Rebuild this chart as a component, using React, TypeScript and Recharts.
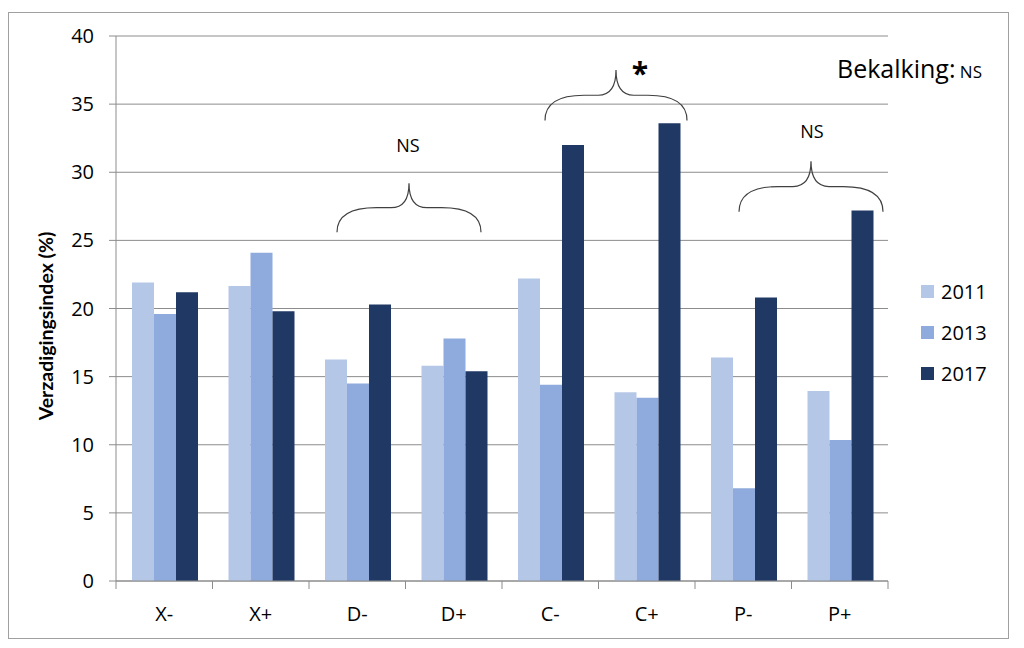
import React from "react";
import { BarChart, Bar, XAxis, YAxis, CartesianGrid, ReferenceArea } from "recharts";

const categories = ["X-", "X+", "D-", "D+", "C-", "C+", "P-", "P+"];
const years = ["2011", "2013", "2017"];
const values2011 = [21.9, 21.65, 16.25, 15.8, 22.2, 13.85, 16.4, 13.95];
const values2013 = [19.6, 24.1, 14.5, 17.8, 14.4, 13.45, 6.8, 10.35];
const values2017 = [21.2, 19.8, 20.3, 15.4, 32.0, 33.6, 20.8, 27.2];
const yTicks = [0, 5, 10, 15, 20, 25, 30, 35, 40];

// significance braces: which categories they span and their height in data units
const braceFrom = ["D-", "C-", "P-"];
const braceTo = ["D+", "C+", "P+"];
const braceLow = [25.6, 33.8, 27.1];
const braceHigh = [29.2, 37.5, 30.8];
const braceLabels = ["NS", "*", "NS"];

const COLORS = ["#b4c7e7", "#8faadc", "#203864"];
const FONT = "'Open Sans', 'Noto Sans', sans-serif";
const GRID = "#8c8c8c";

const data = categories.map((name, i) => ({
	name,
	"2011": values2011[i],
	"2013": values2013[i],
	"2017": values2017[i],
}));

// pixel tweaks per brace (inset from band edges, label offset from tip)
const braceLook = [
	{ inL: 28, inR: 21, lx: -1, ly: -38, size: 18, weight: 400 },
	{ inL: 43, inR: 8, lx: 24, ly: 2, size: 30, weight: 700 },
	{ inL: 44, inR: 5, lx: 1, ly: -30, size: 18, weight: 400 },
];

const Brace = (props: any) => {
	const { x, y, width, height, look, label } = props;
	const x0 = x + look.inL;
	const x1 = x + width - look.inR;
	const xc = (x0 + x1) / 2;
	const yt = y;
	const yb = y + height;
	const ym = (yt + yb) / 2;
	const h = (x1 - x0) / 2;
	const d =
		`M${x0},${yb} Q${x0},${ym} ${x0 + 0.55 * h},${ym} ` +
		`L${xc - 0.25 * h},${ym} Q${xc},${ym} ${xc},${yt} ` +
		`Q${xc},${ym} ${xc + 0.25 * h},${ym} ` +
		`L${x1 - 0.55 * h},${ym} Q${x1},${ym} ${x1},${yb}`;
	return (
		<g>
			<path d={d} fill="none" stroke="#404040" strokeWidth={1.2} />
			<text
				x={xc + look.lx}
				y={yt + look.ly}
				textAnchor="middle"
				dominantBaseline="central"
				fontSize={look.size}
				fontWeight={look.weight}
				fontFamily={FONT}
				fill="#000"
			>
				{label}
			</text>
		</g>
	);
};

const CategoryTick = (props: any) => {
	const { x, y, payload, index, visibleTicksCount, width } = props;
	const half = payload.offset ?? width / visibleTicksCount / 2;
	return (
		<g>
			<line x1={x - half} x2={x - half} y1={y} y2={y + 8} stroke={GRID} />
			{index === visibleTicksCount - 1 && (
				<line x1={x + half} x2={x + half} y1={y} y2={y + 8} stroke={GRID} />
			)}
			<text
				x={x}
				y={y + 32}
				textAnchor="middle"
				dominantBaseline="central"
				fontSize={20}
				fontFamily={FONT}
				fill="#000"
			>
				{payload.value}
			</text>
		</g>
	);
};

export default function App() {
	return (
		<div
			style={{
				position: "fixed",
				left: 8,
				top: 12,
				width: 999,
				height: 625,
				border: "1px solid #a0a0a0",
				fontFamily: FONT,
				background: "#fff",
			}}
		>
			<BarChart
				width={999}
				height={625}
				data={data}
				margin={{ top: 23, right: 120, bottom: 17, left: 0 }}
				barCategoryGap={16}
				barGap={0}
			>
				<CartesianGrid vertical={false} stroke={GRID} />
				<XAxis
					dataKey="name"
					height={40}
					interval={0}
					tickLine={false}
					tickSize={0}
					tickMargin={0}
					axisLine={{ stroke: GRID }}
					tick={<CategoryTick />}
				/>
				<YAxis
					domain={[0, 40]}
					ticks={yTicks}
					interval={0}
					width={107}
					tickSize={7}
					tickMargin={15}
					axisLine={{ stroke: GRID }}
					tickLine={{ stroke: GRID }}
					tick={{ fill: "#000", fontSize: 20, fontFamily: FONT }}
				/>
				{years.map((yr, i) => (
					<Bar key={yr} dataKey={yr} fill={COLORS[i]} isAnimationActive={false} />
				))}
				{braceFrom.map((from, i) => (
					<ReferenceArea
						key={from}
						x1={from}
						x2={braceTo[i]}
						y1={braceLow[i]}
						y2={braceHigh[i]}
						ifOverflow="visible"
						shape={(p: any) => <Brace {...p} look={braceLook[i]} label={braceLabels[i]} />}
					/>
				))}
			</BarChart>

			<div
				style={{
					position: "absolute",
					left: 36,
					top: 313,
					transform: "translate(-50%, -50%) rotate(-90deg)",
					whiteSpace: "nowrap",
					fontFamily: "Lato, 'Open Sans', sans-serif",
					fontWeight: 700,
					fontSize: 19.5,
					color: "#000",
				}}
			>
				Verzadigingsindex (%)
			</div>

			<div
				style={{
					position: "absolute",
					left: 828,
					top: 55,
					transform: "translateY(-50%)",
					whiteSpace: "nowrap",
					color: "#000",
				}}
			>
				<span style={{ fontSize: 25 }}>Bekalking:</span>
				<span style={{ fontSize: 17 }}> NS</span>
			</div>

			<div style={{ position: "absolute", left: 912, top: 258 }}>
				{years.map((yr, i) => (
					<div
						key={yr}
						style={{ display: "flex", alignItems: "center", height: 41, fontSize: 20, color: "#000" }}
					>
						<span
							style={{ width: 13, height: 13, background: COLORS[i], marginRight: 7, display: "inline-block" }}
						/>
						{yr}
					</div>
				))}
			</div>
		</div>
	);
}
